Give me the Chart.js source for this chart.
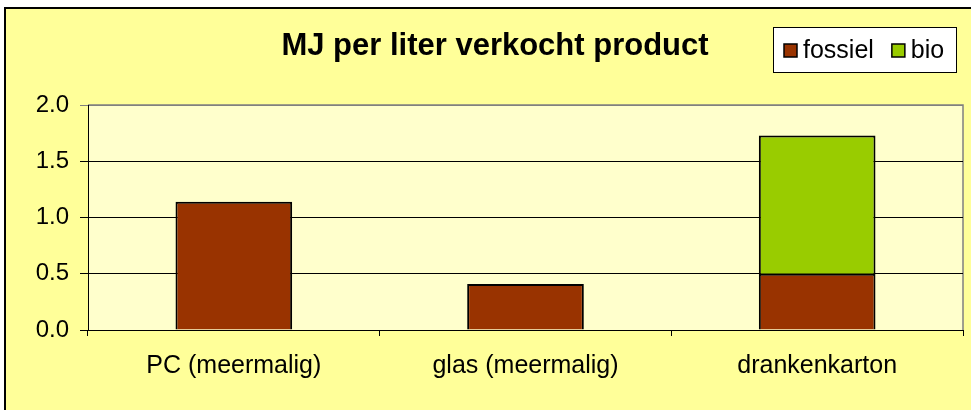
<!DOCTYPE html>
<html>
<head>
<meta charset="utf-8">
<script src="https://cdn.jsdelivr.net/npm/chart.js@4.4.0/dist/chart.umd.min.js"></script>
<style>
  html, body { margin: 0; padding: 0; background: #fff; }
  canvas { display: block; }
</style>
</head>
<body>
<canvas id="myChart" width="971" height="410"></canvas>
<script>
// data
const categories = ['PC (meermalig)', 'glas (meermalig)', 'drankenkarton'];
const fossiel = [1.14, 0.41, 0.5];
const bio = [null, null, 1.23];
const titel = 'MJ per liter verkocht product';

const font = "'Liberation Sans', Arial, sans-serif";

// achtergrond, titel en legende
const decor = {
    id: 'decor',
    beforeDraw(chart) {
        const c = chart.ctx;
        const a = chart.chartArea;
        c.save();
        c.fillStyle = '#fff';
        c.fillRect(0, 0, chart.width, chart.height);
        c.fillStyle = '#FFFF99';
        c.fillRect(5, 8, chart.width, chart.height);
        c.strokeStyle = '#000';
        c.lineWidth = 2;
        c.strokeRect(5, 8, chart.width + 10, chart.height + 10);
        c.fillStyle = '#FFFFCC';
        c.fillRect(a.left, a.top, a.right - a.left, a.bottom - a.top);
        c.strokeStyle = '#808080';
        c.lineWidth = 1.5;
        c.beginPath();
        c.moveTo(a.left, a.top);
        c.lineTo(a.right, a.top);
        c.lineTo(a.right, a.bottom);
        c.stroke();
        c.restore();
    },
    afterDraw(chart) {
        const c = chart.ctx;
        c.save();
        c.fillStyle = '#000';
        c.font = 'bold 31px ' + font;
        c.textAlign = 'center';
        c.textBaseline = 'middle';
        c.fillText(titel, 495, 46);

        // legende
        c.fillStyle = '#fff';
        c.fillRect(773, 27, 183, 45);
        c.strokeStyle = '#000';
        c.lineWidth = 1;
        c.strokeRect(773.5, 27.5, 183, 45);
        c.font = '25px ' + font;
        c.textAlign = 'left';
        let x = 784;
        chart.data.datasets.forEach(ds => {
            c.fillStyle = ds.backgroundColor;
            c.fillRect(x, 44, 13, 13);
            c.strokeStyle = '#000';
            c.lineWidth = 1.5;
            c.strokeRect(x, 44, 13, 13);
            c.fillStyle = '#000';
            c.fillText(ds.label, x + 19, 51);
            x += 19 + c.measureText(ds.label).width + 18;
        });
        c.restore();
    }
};

const ctx = document.getElementById('myChart').getContext('2d');

const myChart = new Chart(ctx, {
    type: 'bar',
    data: {
        labels: categories,
        datasets: [{
            label: 'fossiel',
            data: fossiel,
            backgroundColor: '#993300',
            borderColor: '#000',
            borderWidth: 2,
            categoryPercentage: 0.4,
            barPercentage: 1
        }, {
            label: 'bio',
            data: bio,
            backgroundColor: '#99CC00',
            borderColor: '#000',
            borderWidth: 2,
            categoryPercentage: 0.4,
            barPercentage: 1
        }]
    },
    options: {
        responsive: false,
        animation: false,
        layout: { padding: { left: 0, top: 105, right: 8, bottom: 0 } },
        plugins: {
            legend: { display: false },
            title: { display: false },
            tooltip: { enabled: false }
        },
        scales: {
            x: {
                stacked: true,
                grid: { offset: true, drawOnChartArea: false, drawTicks: true, tickLength: 6, color: '#000' },
                border: { color: '#000', width: 1 },
                ticks: { color: '#000', font: { family: font, size: 25 }, padding: 15 },
                afterFit: s => { s.height = 80; }
            },
            y: {
                stacked: true,
                min: 0,
                max: 2,
                grid: {
                    color: c => c.tick && c.tick.value === 2 ? '#808080' : '#000',
                    tickLength: 8
                },
                border: { color: '#000', width: 1 },
                ticks: {
                    stepSize: 0.5,
                    color: '#000',
                    font: { family: font, size: 24 },
                    padding: 11,
                    callback: v => v.toFixed(1)
                },
                afterFit: s => { s.width = 88; }
            }
        }
    },
    plugins: [decor]
});
</script>
</body>
</html>
